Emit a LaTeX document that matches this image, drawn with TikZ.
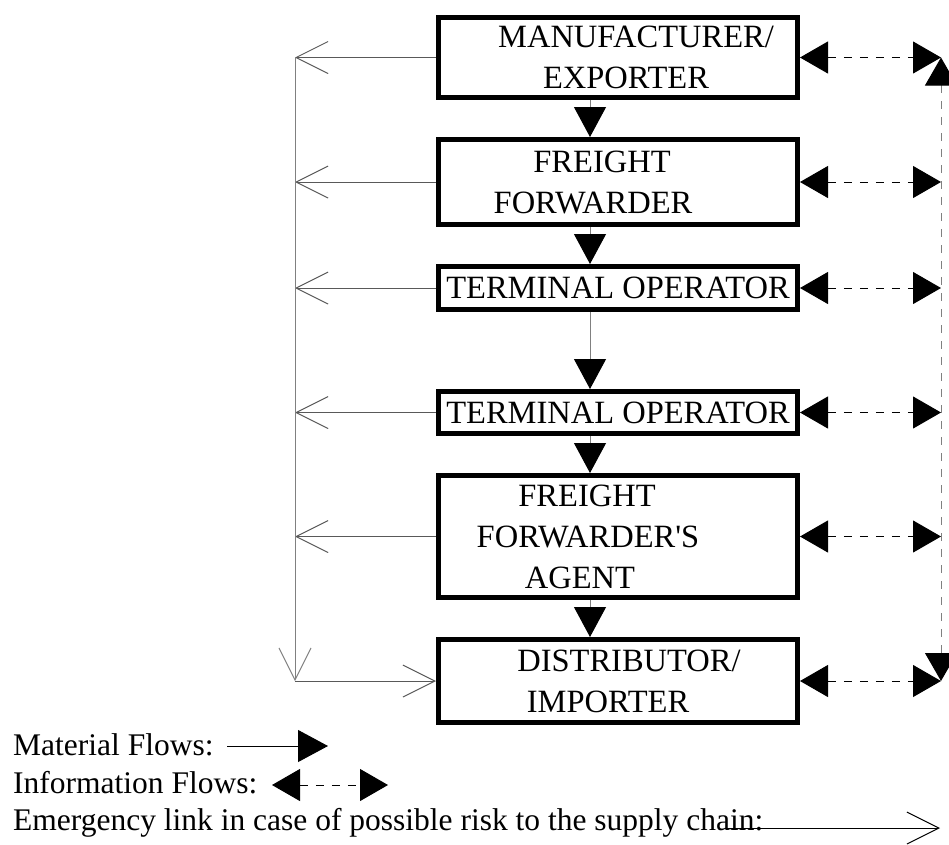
\documentclass[tikz,border=0pt]{standalone}
\usepackage{fontspec}
\setmainfont{Liberation Serif}
\usetikzlibrary{arrows.meta,positioning}

% shift the ink of one line sideways, keeping its width
\newcommand{\shiftline}[2]{\mbox{\kern#1\relax#2\kern-#1\relax}}

\begin{document}
\begin{tikzpicture}[
        x=1pt, y=1pt,
        node distance=37pt,
        actor/.style={
            rectangle, draw=black, line width=5pt, fill=white,
            minimum width=359pt, minimum height=#1, inner sep=2pt,
            align=center, font=\fontsize{32.5}{41}\selectfont
        },
        actor/.default=43pt,
        matflow/.style={draw=gray, line width=1pt,
            -{Triangle[length=30pt, width=32pt, black]}},
        infoflow/.style={black, line width=1pt, dash pattern=on 8pt off 8pt,
            {Triangle[length=28pt, width=32pt, black]}-{Triangle[length=28pt, width=32pt, black]}},
        emergency/.style={black!65, line width=1pt,
            -{Straight Barb[length=32pt, width=32pt]}},
        legend/.style={anchor=base west, inner sep=0pt,
            font=\fontsize{31.5}{38}\selectfont},
    ]
    \useasboundingbox (0,0) rectangle (949,-844);

    % ── Chain of actors ──
    \node[actor=80pt] (maker) at (618,-57.5)
        {\shiftline{18pt}{MANUFACTURER/}\\\shiftline{8pt}{EXPORTER}};
    \node[actor=85pt, below=of maker] (forwarder)
        {\shiftline{-16pt}{FREIGHT}\\\shiftline{-25pt}{FORWARDER}};
    \node[actor=43pt, below=of forwarder] (termA) {TERMINAL OPERATOR};
    \node[actor=42pt, below=77pt of termA] (termB) {TERMINAL OPERATOR};
    \node[actor=122pt, below=of termB] (agent)
        {\shiftline{-31pt}{FREIGHT}\\\shiftline{-30pt}{FORWARDER\textquotesingle S}\\\shiftline{-38pt}{AGENT}};
    \node[actor=83pt, below=of agent] (importer)
        {\shiftline{11pt}{DISTRIBUTOR/}\\\shiftline{-10pt}{IMPORTER}};

    % ── Guide lines ──
    \coordinate (spine) at (590,0);
    \coordinate (rail) at (941,0);
    \coordinate (drop) at (295,0);

    % ── Material flows ──
    \foreach \a/\b in {maker/forwarder, forwarder/termA, termA/termB, termB/agent, agent/importer}
        \draw[matflow] (\a.south -| spine) -- (\b.north -| spine);

    % ── Information flows ──
    \foreach \n in {maker, forwarder, termA, termB, agent, importer}
        \draw[infoflow] (\n.east) -- (\n.east -| rail);
    \draw[infoflow, draw=gray] (maker.east -| rail) -- (importer.east -| rail);

    % ── Emergency links ──
    \foreach \n in {maker, forwarder, termA, termB, agent}
        \draw[emergency] (\n.west) -- (\n.west -| drop);
    \draw[emergency, draw=gray] (maker.west -| drop) -- (importer.west -| drop);
    \draw[emergency] (importer.west -| drop) -- (importer.west);

    % ── Legend ──
    \node[legend] (lgmat) at (13,-755) {Material Flows:};
    \node[legend] (lginfo) at (13,-793) {Information Flows:};
    \node[legend] (lgemerg) at (13,-830) {Emergency link in case of possible risk to the supply chain:};
    \coordinate (matA) at (227,-746);
    \coordinate (matB) at (328,-746);
    \coordinate (infoA) at (272,-785);
    \coordinate (infoB) at (388,-785);
    \coordinate (emA) at (725,-828);
    \coordinate (emB) at (940,-828);
    \draw[matflow, draw=black] (matA) -- (matB);
    \draw[infoflow] (infoA) -- (infoB);
    \draw[emergency, draw=black] (emA) -- (emB);

\end{tikzpicture}
\end{document}
